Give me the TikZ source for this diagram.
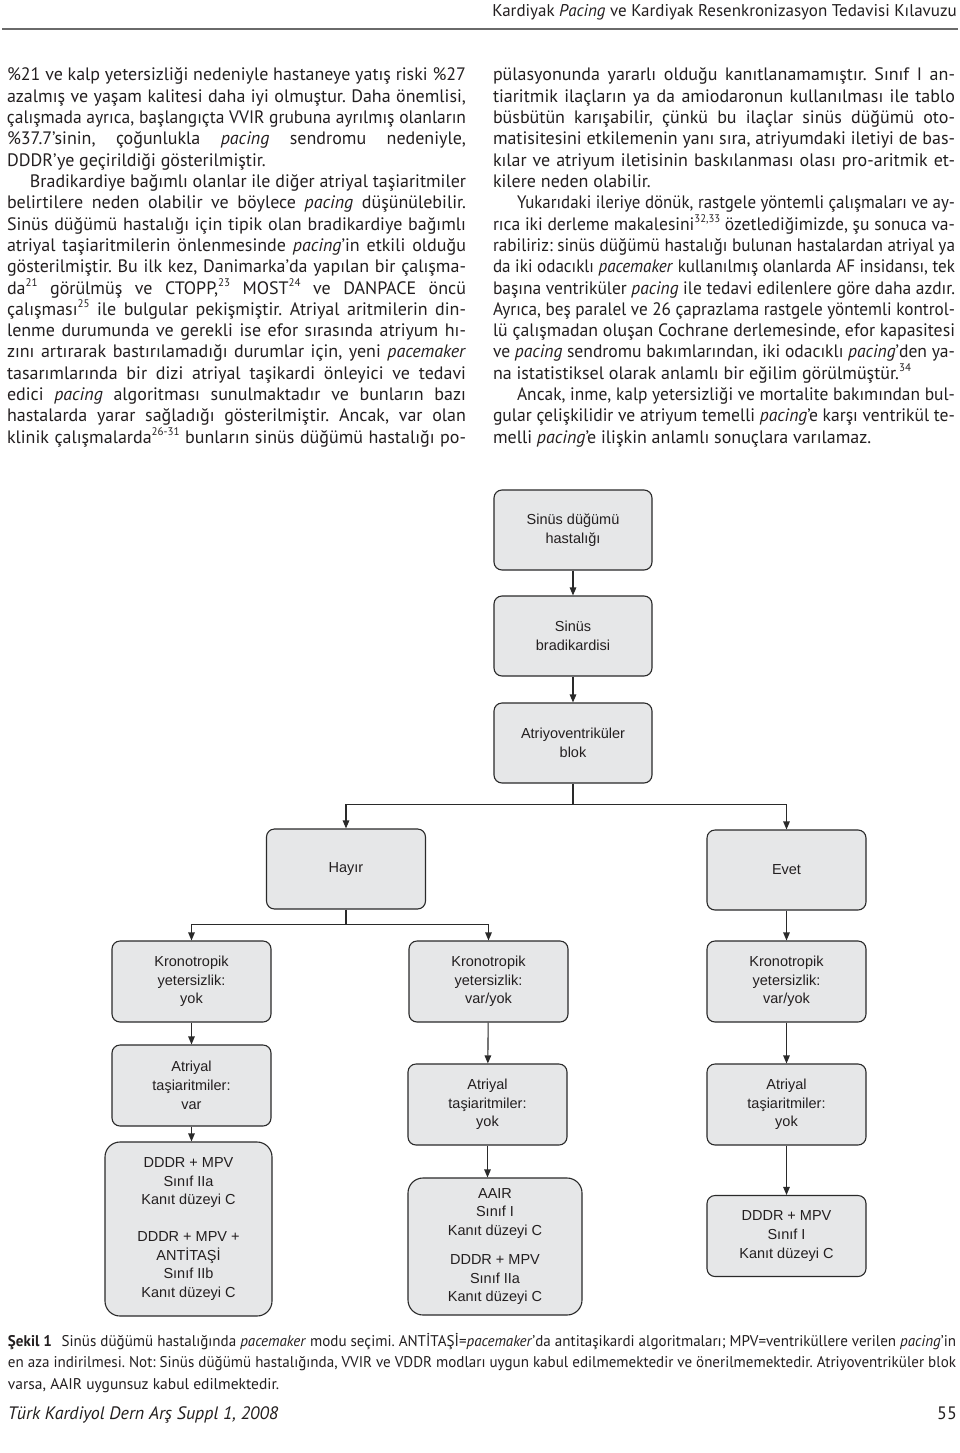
\documentclass[tikz,border=0pt]{standalone}
\usepackage{fontspec}
\usepackage{graphicx}
\setmainfont{PT Sans}
\newfontfamily\boxfont{Liberation Sans}
\usetikzlibrary{arrows.meta,calc}
\definecolor{ink}{HTML}{231F20}
\definecolor{boxfill}{HTML}{E6E7E8}
\definecolor{boxline}{HTML}{2A2A2A}
\definecolor{rulegray}{HTML}{6A6A6A}
\frenchspacing
\newsavebox\lbox
\newcommand\jbox[2]{\sbox\lbox{#2}\ifdim\wd\lbox>#1\relax\resizebox{#1}{\height}{\usebox\lbox}\else\makebox[#1][s]{#2}\fi}
\newcommand\mysup[1]{\raisebox{0.42em}{\fontsize{11}{11}\selectfont #1}}
\newcommand\bodyfont{\fontsize{18}{21.3}\selectfont}
\newcommand\capfont{\fontsize{15.5}{21}\selectfont}
\newcommand\boxfnt{\boxfont\fontsize{14.5}{18.7}\selectfont}
\newcommand\LL[3]{\node[bodytxt] (#1) at (7,#2) {\jbox{459pt}{#3}};}
\newcommand\LI[3]{\node[bodytxt] (#1) at (30,#2) {\jbox{436pt}{#3}};}
\newcommand\LN[3]{\node[bodytxt] (#1) at (7,#2) {#3};}
\newcommand\RL[3]{\node[bodytxt] (#1) at (493,#2) {\jbox{462pt}{#3}};}
\newcommand\RI[3]{\node[bodytxt] (#1) at (517,#2) {\jbox{438pt}{#3}};}
\newcommand\RN[3]{\node[bodytxt] (#1) at (493,#2) {#3};}
\tikzset{
  bodytxt/.style={anchor=base west, inner sep=0pt, outer sep=0pt, font=\bodyfont, text=ink},
  fbox/.style={draw=boxline, fill=boxfill, line width=1.1pt, rounded corners=8pt, align=center,
    inner sep=0pt, font=\boxfnt, text=ink, minimum width=159pt, minimum height=81pt},
  arr/.style={draw=boxline, line width=1.1pt, -{Triangle[length=8pt,width=6.5pt]}},
  conn/.style={draw=boxline, line width=1.1pt},
}
\begin{document}
\begin{tikzpicture}[x=1pt,y=-1pt]
\useasboundingbox (0,0) rectangle (960,1453);
\fill[white] (0,0) rectangle (960,1453);
% header
\node[anchor=base east, inner sep=0pt, font=\fontsize{17}{20}\selectfont, text=ink] (head) at (957,17)
  {Kardiyak \textit{Pacing} ve Kardiyak Resenkronizasyon Tedavisi Kılavuzu};
\draw[rulegray, line width=2pt] (2,29.3) -- (958,29.3);
% left column
\LL{L1}{81}{\%21 ve kalp yetersizliği nedeniyle hastaneye yatış riski \%27}
\LL{L2}{102.3}{azalmış ve yaşam kalitesi daha iyi olmuştur. Daha önemlisi,}
\LL{L3}{123.6}{çalışmada ayrıca, başlangıçta VVIR grubuna ayrılmış olanların}
\LL{L4}{144.9}{\%37.7’sinin, çoğunlukla \textit{pacing} sendromu nedeniyle,}
\LN{L5}{166.2}{DDDR’ye geçirildiği gösterilmiştir.}
\LI{L6}{187.5}{Bradikardiye bağımlı olanlar ile diğer atriyal taşiaritmiler}
\LL{L7}{208.8}{belirtilere neden olabilir ve böylece \textit{pacing} düşünülebilir.}
\LL{L8}{230.1}{Sinüs düğümü hastalığı için tipik olan bradikardiye bağımlı}
\LL{L9}{251.4}{atriyal taşiaritmilerin önlenmesinde \textit{pacing}’in etkili olduğu}
\LL{L10}{272.7}{gösterilmiştir. Bu ilk kez, Danimarka’da yapılan bir çalışma-}
\LL{L11}{294}{da\mysup{21} görülmüş ve CTOPP,\mysup{23} MOST\mysup{24} ve DANPACE öncü}
\LL{L12}{315.3}{çalışması\mysup{25} ile bulgular pekişmiştir. Atriyal aritmilerin din-}
\LL{L13}{336.6}{lenme durumunda ve gerekli ise efor sırasında atriyum hı-}
\LL{L14}{357.9}{zını artırarak bastırılamadığı durumlar için, yeni \textit{pacemaker}}
\LL{L15}{379.2}{tasarımlarında bir dizi atriyal taşikardi önleyici ve tedavi}
\LL{L16}{400.5}{edici \textit{pacing} algoritması sunulmaktadır ve bunların bazı}
\LL{L17}{421.8}{hastalarda yarar sağladığı gösterilmiştir. Ancak, var olan}
\LL{L18}{443.1}{klinik çalışmalarda\mysup{26-31} bunların sinüs düğümü hastalığı po-}
% right column
\RL{R1}{81}{pülasyonunda yararlı olduğu kanıtlanamamıştır. Sınıf I an-}
\RL{R2}{102.3}{tiaritmik ilaçların ya da amiodaronun kullanılması ile tablo}
\RL{R3}{123.6}{büsbütün karışabilir, çünkü bu ilaçlar sinüs düğümü oto-}
\RL{R4}{144.9}{matisitesini etkilemenin yanı sıra, atriyumdaki iletiyi de bas-}
\RL{R5}{166.2}{kılar ve atriyum iletisinin baskılanması olası pro-aritmik et-}
\RN{R6}{187.5}{kilere neden olabilir.}
\RI{R7}{208.8}{Yukarıdaki ileriye dönük, rastgele yöntemli çalışmaları ve ay-}
\RL{R8}{230.1}{rıca iki derleme makalesini\mysup{32,33} özetlediğimizde, şu sonuca va-}
\RL{R9}{251.4}{rabiliriz: sinüs düğümü hastalığı bulunan hastalardan atriyal ya}
\RL{R10}{272.7}{da iki odacıklı \textit{pacemaker} kullanılmış olanlarda AF insidansı, tek}
\RL{R11}{294}{başına ventriküler \textit{pacing} ile tedavi edilenlere göre daha azdır.}
\RL{R12}{315.3}{Ayrıca, beş paralel ve 26 çaprazlama rastgele yöntemli kontrol-}
\RL{R13}{336.6}{lü çalışmadan oluşan Cochrane derlemesinde, efor kapasitesi}
\RL{R14}{357.9}{ve \textit{pacing} sendromu bakımlarından, iki odacıklı \textit{pacing}’den ya-}
\RN{R15}{379.2}{na istatistiksel olarak anlamlı bir eğilim görülmüştür.\mysup{34}}
\RI{R16}{400.5}{Ancak, inme, kalp yetersizliği ve mortalite bakımından bul-}
\RL{R17}{421.8}{gular çelişkilidir ve atriyum temelli \textit{pacing}’e karşı ventrikül te-}
\RN{R18}{443.1}{melli \textit{pacing}’e ilişkin anlamlı sonuçlara varılamaz.}
% flowchart
\node[fbox, minimum width=158pt, minimum height=80pt] (n1) at (573,530) {Sinüs düğümü\\hastalığı};
\node[fbox, minimum width=158pt, minimum height=80pt] (n2) at (573,636) {Sinüs\\bradikardisi};
\node[fbox, minimum width=158pt, minimum height=80pt] (n3) at (573,743) {Atriyoventriküler\\blok};
\node[fbox, minimum height=80pt] (hay) at (346,869) {Hayır};
\node[fbox, minimum height=80pt] (evt) at (786.5,870) {Evet};
\node[fbox] (kl) at (191.5,981.5) {Kronotropik\\yetersizlik:\\yok};
\node[fbox] (km) at (488.5,981.5) {Kronotropik\\yetersizlik:\\var/yok};
\node[fbox] (kr) at (786.5,981.5) {Kronotropik\\yetersizlik:\\var/yok};
\node[fbox] (al) at (191.5,1085.5) {Atriyal\\taşiaritmiler:\\var};
\node[fbox] (am) at (487.5,1104.5) {Atriyal\\taşiaritmiler:\\yok};
\node[fbox] (ar) at (786.5,1104.5) {Atriyal\\taşiaritmiler:\\yok};
\node[fbox, rounded corners=15pt, minimum width=167pt, minimum height=174pt] (dl) at (188.5,1229)
  {DDDR + MPV\\Sınıf IIa\\Kanıt düzeyi C\\[18pt]DDDR + MPV +\\ANTİTAŞİ\\Sınıf IIb\\Kanıt düzeyi C};
\node[fbox, rounded corners=15pt, minimum width=174pt, minimum height=137pt] (dm) at (495,1246.5)
  {AAIR\\Sınıf I\\Kanıt düzeyi C\\[10pt]DDDR + MPV\\Sınıf IIa\\Kanıt düzeyi C};
\node[fbox] (dr) at (786.5,1236) {DDDR + MPV\\Sınıf I\\Kanıt düzeyi C};
% connectors
\draw[arr] (n1) -- (n2);
\draw[arr] (n2) -- (n3);
\coordinate (j1) at ($(n3.south)+(0,21)$);
\draw[conn] (n3.south) -- (j1);
\draw[arr] (j1) -| (hay.north);
\draw[arr] (j1) -| (evt.north);
\coordinate (j2) at ($(hay.south)+(0,15)$);
\draw[conn] (hay.south) -- (j2);
\draw[arr] (j2) -| (kl.north);
\draw[arr] (j2) -| (km.north);
\draw[arr] (evt) -- (kr);
\draw[arr] (kl) -- (al);
\draw[arr] (al.south) -- (al.south |- dl.north);
\draw[arr] (km) -- (am);
\draw[arr] (am.south) -- (am.south |- dm.north);
\draw[arr] (kr) -- (ar);
\draw[arr] (ar) -- (dr);
% caption
\node[bodytxt, font=\capfont] (c1) at (8,1346) {\jbox{948pt}{\textbf{Şekil 1}\hspace{6pt} Sinüs düğümü hastalığında \textit{pacemaker} modu seçimi. ANTİTAŞİ=\textit{pacemaker}’da antitaşikardi algoritmaları; MPV=ventriküllere verilen \textit{pacing}’in}};
\node[bodytxt, font=\capfont] (c2) at (8,1367) {\jbox{948pt}{en aza indirilmesi. Not: Sinüs düğümü hastalığında, VVIR ve VDDR modları uygun kabul edilmemektedir ve önerilmemektedir. Atriyoventriküler blok}};
\node[bodytxt, font=\capfont] (c3) at (8,1389) {varsa, AAIR uygunsuz kabul edilmektedir.};
% footer
\node[bodytxt, font=\fontsize{18}{21}\selectfont\itshape] (foot) at (8,1419) {Türk Kardiyol Dern Arş Suppl 1, 2008};
\node[anchor=base east, inner sep=0pt, font=\fontsize{18}{21}\selectfont, text=ink] (pg) at (957,1419) {55};
\end{tikzpicture}
\end{document}
